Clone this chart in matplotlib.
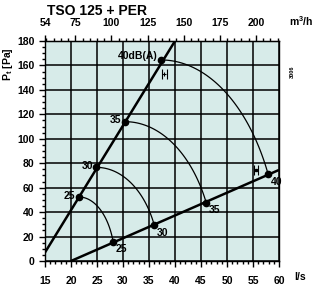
import matplotlib
matplotlib.use("Agg")
import matplotlib.pyplot as plt
import numpy as np

plt.rcParams['font.family'] = ['Liberation Sans Narrow', 'Liberation Sans', 'DejaVu Sans']
plt.rcParams['font.weight'] = 'bold'

# --- data ---
db_levels = [25, 30, 35, 40]
upper_x = [21.5, 24.9, 30.4, 37.3]
upper_y = [52.4, 76.6, 114.0, 164.5]
lower_x = [28.1, 36.0, 46.0, 57.9]
lower_y = [15.8, 29.5, 47.7, 71.2]
sys1_x = [15, 40]
sys1_y = [7, 180]
sys2_x = [20, 60]
sys2_y = [0, 74.5]
x_ticks = [15, 20, 25, 30, 35, 40, 45, 50, 55, 60]
y_ticks = [0, 20, 40, 60, 80, 100, 120, 140, 160, 180]
top_ticks = [54, 75, 100, 125, 150, 175, 200]

W, H = 318, 286
fig = plt.figure(figsize=(W / 100, H / 100), dpi=100)
L, R, B, T = 45, 279, 261, 41
ax = fig.add_axes([L / W, 1 - B / H, (R - L) / W, (B - T) / H])
ax.set_facecolor('#d7ebe9')
ax.set_xlim(15, 60)
ax.set_ylim(0, 180)

for s in ax.spines.values():
    s.set_linewidth(1.0)
    s.set_color('black')

FS = 7.5
ax.set_xticks(x_ticks)
ax.set_yticks(y_ticks)
ax.set_xticks(np.arange(15, 61, 1), minor=True)
ax.set_yticks(np.arange(0, 181, 5), minor=True)
ax.tick_params(which='both', direction='out', colors='black', labelsize=FS, width=1.0)
ax.tick_params(which='major', length=4.5)
ax.tick_params(which='minor', length=2.4)
ax.tick_params(axis='x', which='major', pad=6)
ax.tick_params(axis='y', which='major', pad=3)
ax.tick_params(axis='x', which='both', bottom=True, top=False)
ax.tick_params(axis='y', which='both', right=False)
for lab in ax.get_xticklabels() + ax.get_yticklabels():
    lab.set_fontweight('bold')
ax.grid(True, which='major', color='black', linewidth=1.1)
ax.set_axisbelow(True)

# top axis m3/h
sec = ax.secondary_xaxis('top', functions=(lambda v: v * 3.6, lambda v: v / 3.6))
sec.set_xticks(top_ticks)
sec.set_xticks(np.arange(55, 216, 5), minor=True)
sec.tick_params(which='both', direction='out', labelsize=FS, width=1.0)
sec.tick_params(which='major', length=4.5, pad=5)
sec.tick_params(which='minor', length=2.4)
for lab in sec.get_xticklabels():
    lab.set_fontweight('bold')

# system lines
ax.plot(sys1_x, sys1_y, color='black', lw=1.8, solid_capstyle='butt', zorder=3)
ax.plot(sys2_x, sys2_y, color='black', lw=1.8, solid_capstyle='butt', zorder=3)

# iso-sound arcs (quarter ellipses through upper and lower points)
for ux, uy, lx, ly in zip(upper_x, upper_y, lower_x, lower_y):
    b = uy
    a = (lx - ux) / np.sqrt(1 - (ly / b) ** 2)
    t_end = np.arcsin((lx - ux) / a)
    t = np.linspace(0, t_end, 80)
    ax.plot(ux + a * np.sin(t), b * np.cos(t), color='black', lw=0.9, zorder=3)

ax.plot(upper_x, upper_y, 'o', color='black', ms=4.5, zorder=4)
ax.plot(lower_x, lower_y, 'o', color='black', ms=4.5, zorder=4)

for i, (d, ux, uy) in enumerate(zip(db_levels, upper_x, upper_y)):
    txt = f"{d}dB(A)" if i == len(db_levels) - 1 else str(d)
    dy = 3 if i == len(db_levels) - 1 else 1
    ax.annotate(txt, (ux, uy), xytext=(-2.5, dy), textcoords='offset points',
                ha='right', va='center', fontsize=FS, fontweight='bold', zorder=5)
for d, lx, ly in zip(db_levels, lower_x, lower_y):
    ax.annotate(str(d), (lx, ly), xytext=(2, -5.5), textcoords='offset points',
                ha='left', va='center', fontsize=FS, fontweight='bold', zorder=5)

# tolerance markers (drawn relative to the 40 dB points)
px_x = 45 / (R - L)   # data units per pixel in x
px_y = 180 / (B - T)  # data units per pixel in y
tx, ty = upper_x[-1] + 3.5 * px_x, upper_y[-1] - 14 * px_y
ax.plot([tx - 2.7 * px_x, tx + 2.7 * px_x], [ty, ty], '|', color='black', ms=7, mew=0.8, zorder=5)
ax.plot([tx], [ty], '+', color='black', ms=3, mew=0.8, zorder=5)
bx, by = lower_x[-1] - 12.5 * px_x, lower_y[-1] + 3.5 * px_y
ax.plot([bx - 2 * px_x, bx + 2 * px_x], [by, by], '|', color='black', ms=7, mew=0.8, zorder=5)
ax.plot([bx], [by], 's', color='black', ms=1.8, zorder=5)

# texts
fig.text(47 / W, 1 - 11 / H, "TSO 125 + PER", fontsize=10, fontweight='bold',
         ha='left', va='center')
fig.text(301 / W, 1 - 21 / H, "m$^\\mathregular{3}$/h", fontsize=FS, fontweight='bold',
         ha='center', va='center')
fig.text(300 / W, 1 - 277 / H, "l/s", fontsize=FS, fontweight='bold',
         ha='center', va='center')
fig.text(8 / W, 1 - 64 / H, "P$_\\mathregular{t}$ [Pa]", fontsize=FS, fontweight='bold',
         rotation=90, ha='center', va='center')
fig.text(292.5 / W, 1 - 72 / H, "3006", fontsize=4, rotation=90, ha='center', va='center')

fig.savefig("out.png", dpi=100)
